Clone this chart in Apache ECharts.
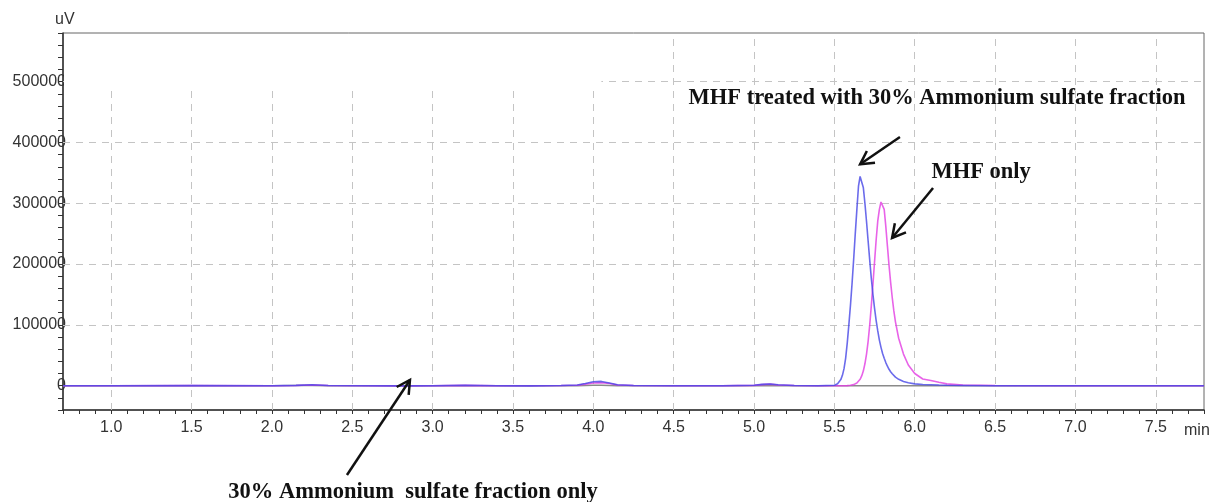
<!DOCTYPE html>
<html>
<head>
<meta charset="utf-8">
<script src="https://cdn.jsdelivr.net/npm/echarts@6/dist/echarts.min.js"></script>
<style>
  html, body { margin: 0; padding: 0; background: #fff; }
  #chart { width: 1218px; height: 502px; }
</style>
</head>
<body>
<div id="chart"></div>
<script>
// retention time (min)
const times = [0.7, 1.0, 1.5, 2.0, 2.15, 2.25, 2.35, 2.6, 2.8, 3.0, 3.2, 3.4, 3.6, 3.8, 3.9, 3.95, 4.0, 4.05, 4.1, 4.15,
  4.25, 4.5, 4.8, 5.0, 5.05, 5.1, 5.15, 5.25, 5.4,
  5.5, 5.52, 5.54, 5.55, 5.56, 5.57, 5.58, 5.59, 5.6, 5.61, 5.62, 5.63, 5.64, 5.65, 5.66, 5.67, 5.68, 5.69, 5.7, 5.71,
  5.72, 5.73, 5.74, 5.75, 5.76, 5.77, 5.78, 5.79, 5.8, 5.81, 5.82, 5.83, 5.84, 5.85, 5.86, 5.87, 5.88,
  5.9, 5.93, 5.96, 6.0, 6.05, 6.1, 6.15, 6.2, 6.3, 6.5, 7.0, 7.5, 7.8];

// signal (uV)
const treated = [0, 0, 300, 0, 500, 1500, 300, 0, -400, 0, 600, 0, -300, 300, 1000, 3500, 6500, 7000, 4500, 1500,
  200, 0, 0, 600, 2200, 2800, 1500, 200, 0,
  600, 3000, 10000, 17000, 28000, 45000, 70000, 100000, 132000, 168000, 208000, 250000, 290000, 328000, 344000, 341000, 326000, 300000, 270000, 238000,
  206000, 176000, 150000, 127000, 107000, 90000, 75000, 63000, 53000, 45000, 38000, 32000, 27000, 23000, 19500, 16500, 14000,
  10500, 7000, 4800, 3000, 2000, 1500, 1000, 700, 400, 0, 0, 0, 0];

const mhfOnly = [0, 0, 300, 0, 400, 1200, 300, 0, -300, 0, 500, 0, -200, 300, 800, 2500, 4500, 5000, 3500, 1000,
  200, 0, 0, 500, 1800, 2500, 1200, 200, 0,
  0, 0, 0, 0, 0, 0, 100, 300, 600, 1000, 1700, 2800, 4500, 7000, 10500, 16000, 24000, 36000, 52000, 73000,
  100000, 132000, 167000, 204000, 240000, 271000, 290000, 302000, 303000, 290000, 262000, 230000, 198000, 170000, 145000, 123000, 105000,
  78000, 52000, 34000, 20000, 11000, 8500, 5500, 3000, 1200, 300, 0, 0, 0];

const fractionOnly = [0, 0, 0, 0, 200, 300, 0, 0, 0, 0, 0, 0, 0, 0, 0, 300, 500, 500, 300, 0,
  0, 0, 0, 0, 0, 0, 0, 0, 0,
  0, 0, 0, 0, 0, 0, 0, 0, 0, 0, 0, 0, 0, 0, 0, 0, 0, 0, 0, 0,
  0, 0, 0, 0, 0, 0, 0, 0, 0, 0, 0, 0, 0, 0, 0, 0, 0,
  0, 0, 0, 0, 0, 0, 0, 0, 0, 0, 0, 0, 0];

const xGrid = [1.0, 1.5, 2.0, 2.5, 3.0, 3.5, 4.0, 4.5, 5.0, 5.5, 6.0, 6.5, 7.0, 7.5];
const yGrid = [0, 100000, 200000, 300000, 400000, 500000];

// annotation text anchors and arrows, in data units
const notes = [
  { text: "MHF treated with 30% Ammonium sulfate fraction", at: [6.139, 472000], from: [5.908, 409000], to: [5.66, 364000] },
  { text: "MHF only", at: [6.413, 351400], from: [6.114, 325100], to: [5.859, 242850] },
  { text: "30% Ammonium  sulfate fraction only", at: [2.878, -174900], from: [2.467, -146900], to: [2.859, 9320] }
];

const pairs = vals => times.map((t, i) => [t, vals[i]]);
const isHalf = v => Math.abs(v * 2 - Math.round(v * 2)) < 1e-6;

const chart = echarts.init(document.getElementById("chart"));

const axisFont = { fontFamily: "Liberation Sans", fontSize: 16, color: "#333" };

chart.setOption({
  animation: false,
  grid: { left: 63, right: 14, top: 33, bottom: 92, show: true, borderColor: "#666", borderWidth: 1 },
  xAxis: {
    type: "value",
    min: 0.7,
    max: 7.8,
    interval: 0.1,
    name: "min",
    nameLocation: "end",
    nameGap: -20,
    nameTextStyle: { fontFamily: "Liberation Sans", fontSize: 16, color: "#333", verticalAlign: "top", padding: [13, 0, 0, 0] },
    axisLine: { onZero: false, lineStyle: { color: "#333", width: 1.5 } },
    axisTick: { length: 4, lineStyle: { color: "#333" } },
    axisLabel: Object.assign({ margin: 10, formatter: v => (isHalf(v) ? v.toFixed(1) : "") }, axisFont),
    splitLine: { show: false }
  },
  yAxis: {
    type: "value",
    min: -40000,
    max: 580000,
    interval: 20000,
    name: "uV",
    nameLocation: "end",
    nameGap: 5,
    nameTextStyle: { fontFamily: "Liberation Sans", fontSize: 16, color: "#333", align: "left", padding: [0, 0, 0, -8] },
    axisLine: { show: true, onZero: false, lineStyle: { color: "#333", width: 1.5 } },
    axisTick: { show: true, length: 5, lineStyle: { color: "#333" } },
    axisLabel: Object.assign({ margin: -3, formatter: v => (v % 100000 === 0 ? String(v) : "") }, axisFont),
    splitLine: { show: false }
  },
  series: [
    {
      name: "30% Ammonium sulfate fraction only",
      type: "line",
      data: pairs(fractionOnly),
      showSymbol: false,
      lineStyle: { color: "#8a8a8a", width: 1.5 },
      markLine: {
        silent: true,
        z: 1,
        symbol: "none",
        label: { show: false },
        lineStyle: { color: "#c4c4c4", width: 1, type: [7, 6] },
        data: xGrid.map(x => ({ xAxis: x })).concat(yGrid.map(y => ({ yAxis: y })))
      }
    },
    {
      name: "MHF only",
      type: "line",
      data: pairs(mhfOnly),
      showSymbol: false,
      lineStyle: { color: "#e23ce2", width: 1.6, opacity: 0.8 }
    },
    {
      name: "MHF treated",
      type: "line",
      data: pairs(treated),
      showSymbol: false,
      lineStyle: { color: "#4646e6", width: 1.6, opacity: 0.8 }
    }
  ]
});

// white patch over the top-left of the plot, arrows and annotation texts
const px = v => chart.convertToPixel({ gridIndex: 0 }, v);
const p0 = px([0.7, 580000]);
const p1 = px([4.05, 488000]);

const graphics = [
  {
    type: "rect",
    z: 1.5,
    shape: { x: p0[0] + 1, y: p0[1] + 1, width: p1[0] - p0[0] - 1, height: p1[1] - p0[1] - 1 },
    style: { fill: "#fff" }
  }
];

notes.forEach(n => {
  const a = px(n.from);
  const b = px(n.to);
  const ang = Math.atan2(b[1] - a[1], b[0] - a[0]);
  const head = 15, spread = 0.5;
  const l = [b[0] - head * Math.cos(ang - spread), b[1] - head * Math.sin(ang - spread)];
  const r = [b[0] - head * Math.cos(ang + spread), b[1] - head * Math.sin(ang + spread)];
  const stroke = { stroke: "#111", lineWidth: 2.5, fill: null };
  graphics.push({ type: "polyline", z: 10, shape: { points: [a, b] }, style: stroke });
  graphics.push({ type: "polyline", z: 10, shape: { points: [l, b, r] }, style: stroke });
  const t = px(n.at);
  graphics.push({
    type: "text",
    z: 10,
    x: t[0],
    y: t[1],
    style: {
      text: n.text,
      fontFamily: "Liberation Serif",
      fontWeight: "bold",
      fontSize: 22.5,
      fill: "#111",
      align: "center",
      verticalAlign: "middle"
    }
  });
});

chart.setOption({ graphic: graphics });

window.addEventListener("resize", () => chart.resize());
</script>
</body>
</html>
